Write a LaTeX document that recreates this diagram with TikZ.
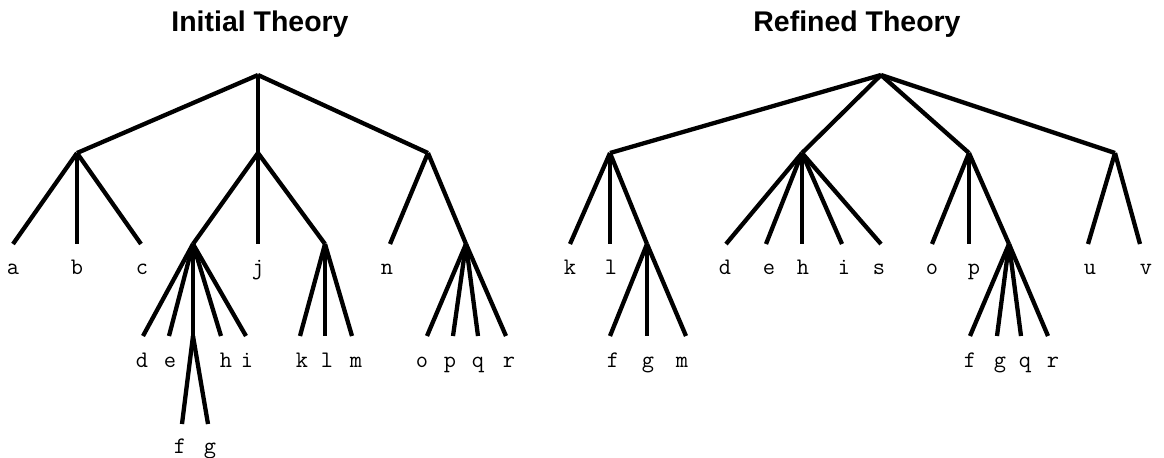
\documentclass[tikz,border=0pt]{standalone}
\usepackage{fontspec}
\setmainfont{Liberation Sans}

\begin{document}
\begin{tikzpicture}[x=0.02cm, y=-0.02cm, line width=0.086cm]
\tikzset{
    heading/.style = {font=\bfseries\fontsize{16.2}{19}\selectfont, anchor=base},
    leaflabel/.style = {font=\ttfamily\fontsize{13.5}{15}\selectfont, anchor=base},
}
\useasboundingbox (0,0) rectangle (1164,457);

\node[heading] (initial) at (260,31.5) {Initial Theory};
\node[heading] (refined) at (857,31.5) {Refined Theory};

% initial theory
\coordinate (L) at (258,75);
\coordinate (LA) at (77,153);
\coordinate (LB) at (258,153);
\coordinate (LC) at (428,153);
\coordinate (La) at (13,244);
\coordinate (Lb) at (77,244);
\coordinate (Lc) at (141,244);
\coordinate (LD) at (193,244);
\coordinate (Lj) at (258,244);
\coordinate (LK) at (325,244);
\coordinate (Ln) at (390,244);
\coordinate (LO) at (466,244);
\coordinate (Ld) at (143,336);
\coordinate (Le) at (169,336);
\coordinate (LF) at (193,336);
\coordinate (Lh) at (221,336);
\coordinate (Li) at (246,336);
\coordinate (Lk) at (300,336);
\coordinate (Ll) at (325,336);
\coordinate (Lm) at (352,336);
\coordinate (Lo) at (427,336);
\coordinate (Lp) at (453,336);
\coordinate (Lq) at (478,336);
\coordinate (Lr) at (506,336);
\coordinate (Lf) at (182,424);
\coordinate (Lg) at (208,424);

\foreach \p/\c in {L/LA, L/LB, L/LC, LA/La, LA/Lb, LA/Lc, LB/LD, LB/Lj, LB/LK,
    LC/Ln, LC/LO, LD/Ld, LD/Le, LD/LF, LD/Lh, LD/Li, LK/Lk, LK/Ll, LK/Lm,
    LO/Lo, LO/Lp, LO/Lq, LO/Lr, LF/Lf, LF/Lg}
    \draw (\p) -- (\c);

% refined theory
\coordinate (R) at (881,75);
\coordinate (RK) at (610,153);
\coordinate (RD) at (802,153);
\coordinate (RO) at (969,153);
\coordinate (RU) at (1115,153);
\coordinate (Rk) at (570,244);
\coordinate (Rl) at (610,244);
\coordinate (RF) at (647,244);
\coordinate (Rd) at (726,244);
\coordinate (Re) at (766,244);
\coordinate (Rh) at (802,244);
\coordinate (Ri) at (842,244);
\coordinate (Rs) at (881,244);
\coordinate (Ro) at (932,244);
\coordinate (Rp) at (969,244);
\coordinate (RQ) at (1009,244);
\coordinate (Ru) at (1088,244);
\coordinate (Rv) at (1140,244);
\coordinate (Rf) at (610,336);
\coordinate (Rg) at (647,336);
\coordinate (Rm) at (686,336);
\coordinate (Rf2) at (970,336);
\coordinate (Rg2) at (997,336);
\coordinate (Rq) at (1021,336);
\coordinate (Rr) at (1048,336);

\foreach \p/\c in {R/RK, R/RD, R/RO, R/RU, RK/Rk, RK/Rl, RK/RF, RD/Rd, RD/Re,
    RD/Rh, RD/Ri, RD/Rs, RO/Ro, RO/Rp, RO/RQ, RU/Ru, RU/Rv, RF/Rf, RF/Rg,
    RF/Rm, RQ/Rf2, RQ/Rg2, RQ/Rq, RQ/Rr}
    \draw (\p) -- (\c);

% leaf labels
\foreach \n/\x/\y/\t in {ta/13/274/a, tb/77/274/b, tc/142/274/c, tj/258/274/j,
    tn/387/274/n, td/142/367/d, te/170/367/e, th/226/367/h, ti/247/367/i,
    tk/302/367/k, tl/327/367/l, tm/356/367/m, to/422/367/o, tp/450/367/p,
    tq/478/367/q, tr/509/367/r, tf/180/453/f, tg/210/453/g}
    \node[leaflabel] (\n) at (\x,\y) {\t};
\foreach \n/\x/\y/\t in {uk/570/274/k, ul/611/274/l, ud/725/274/d, ue/769/274/e,
    uh/803/274/h, ui/844/274/i, us/879/274/s, uo/932/274/o, up/974/274/p,
    uu/1090/274/u, uv/1146/274/v, uf/613/367/f, ug/648/367/g, um/682/367/m,
    vf/970/367/f, vg/1000/367/g, vq/1025/367/q, vr/1053/367/r}
    \node[leaflabel] (\n) at (\x,\y) {\t};
\end{tikzpicture}
\end{document}
